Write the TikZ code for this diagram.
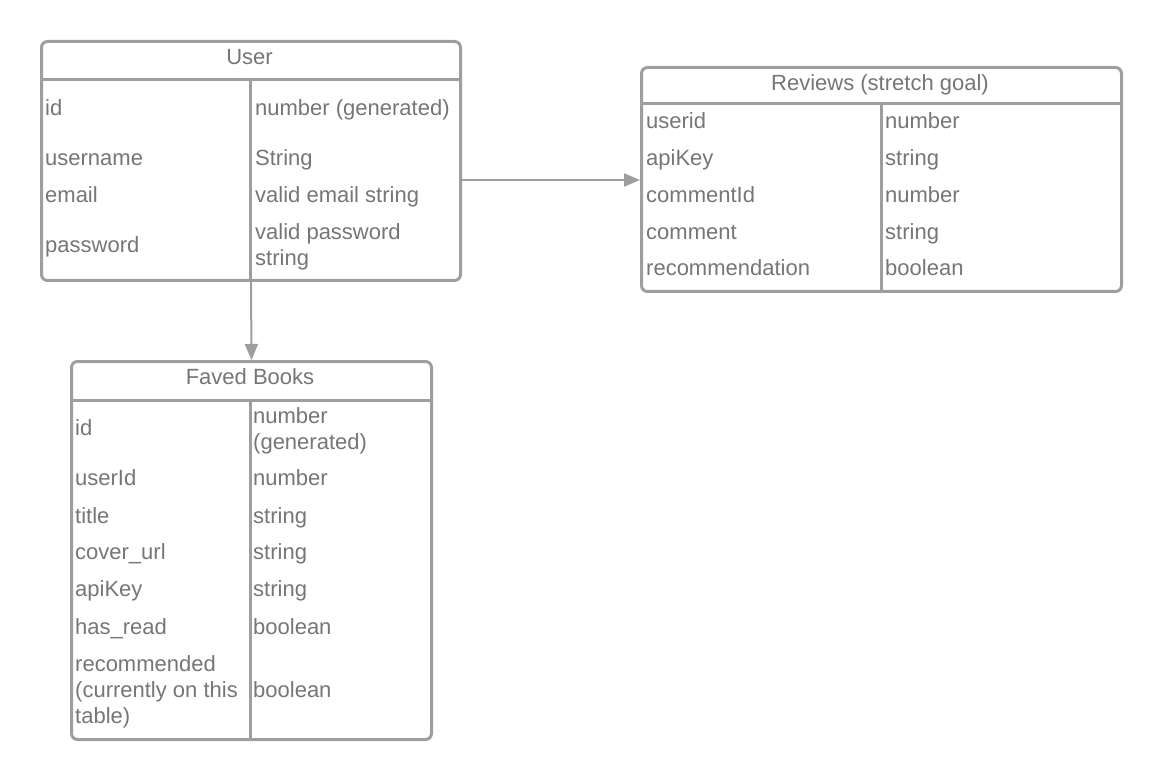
\documentclass[tikz,border=0pt]{standalone}
\usepackage{fontspec}
\setmainfont{Liberation Sans}
\usetikzlibrary{arrows.meta}
\definecolor{linegray}{HTML}{9E9E9E}
\definecolor{textgray}{HTML}{767676}
\tikzset{
  tbl/.style={draw=linegray, line width=3pt, rounded corners=6pt, anchor=north west, inner sep=0pt, fill=white},
  sep/.style={draw=linegray, line width=3pt},
  txt/.style={anchor=west, inner sep=0pt, text=textgray, font=\fontsize{22}{26}\selectfont, text height=15.8pt, text depth=0pt},
  mtxt/.style={anchor=west, inner sep=0pt, text=textgray, font=\fontsize{22}{26}\selectfont, align=left},
  hdr/.style={anchor=center, inner sep=0pt, text=textgray, font=\fontsize{22}{26}\selectfont, text height=15.8pt, text depth=0pt},
  conn/.style={draw=linegray, line width=2pt, -{Triangle[length=16pt,width=13pt]}}
}
\begin{document}
\begin{tikzpicture}[x=1pt,y=-1pt]
\useasboundingbox (0,0) rectangle (1160,778);
% User table
\node[tbl, minimum width=419pt, minimum height=239pt] (user) at (40,40) {};
\draw[sep] (40,80) -- (459,80);
\draw[sep] (250,80) -- (250,279);
\node[hdr] (uh) at (249.5,57) {User};
\node[txt] (u1) at (45,108) {id};
\node[txt] (u1t) at (255,108) {number (generated)};
\node[txt] (u2) at (45,158) {username};
\node[txt] (u2t) at (255,158) {String};
\node[txt] (u3) at (45,195) {email};
\node[txt] (u3t) at (255,195) {valid email string};
\node[txt] (u4) at (45,245) {password};
\node[mtxt] (u4t) at (255,247) {valid password\\string};
% Reviews table
\node[tbl, minimum width=480pt, minimum height=224pt] (rev) at (640,66) {};
\draw[sep] (640,104) -- (1120,104);
\draw[sep] (881,104) -- (881,290);
\node[hdr] (rh) at (880,83) {Reviews (stretch goal)};
\node[txt] (r1) at (646,121) {userid};
\node[txt] (r1t) at (885,121) {number};
\node[txt] (r2) at (646,158) {apiKey};
\node[txt] (r2t) at (885,158) {string};
\node[txt] (r3) at (646,195) {commentId};
\node[txt] (r3t) at (885,195) {number};
\node[txt] (r4) at (646,232) {comment};
\node[txt] (r4t) at (885,232) {string};
\node[txt] (r5) at (646,268) {recommendation};
\node[txt] (r5t) at (885,268) {boolean};
% Faved Books table
\node[tbl, minimum width=360pt, minimum height=378pt] (fav) at (70,360) {};
\draw[sep] (70,400) -- (430,400);
\draw[sep] (250,400) -- (250,738);
\node[hdr] (fh) at (250,377) {Faved Books};
\node[txt] (f1) at (75,428) {id};
\node[mtxt] (f1t) at (253,431) {number\\(generated)};
\node[txt] (f2) at (75,478) {userId};
\node[txt] (f2t) at (253,478) {number};
\node[txt] (f3) at (75,516) {title};
\node[txt] (f3t) at (253,516) {string};
\node[txt] (f4) at (75,552) {cover\_url};
\node[txt] (f4t) at (253,552) {string};
\node[txt] (f5) at (75,589) {apiKey};
\node[txt] (f5t) at (253,589) {string};
\node[txt] (f6) at (75,627) {has\_read};
\node[txt] (f6t) at (253,627) {boolean};
\node[mtxt] (f7) at (75,692) {recommended\\(currently on this\\table)};
\node[txt] (f7t) at (253,690) {boolean};
% connectors
\coordinate (ua) at (459,180);
\draw[conn] (ua) -- (ua -| rev.west);
\draw[conn] (user.south) -- (fav.north);
\end{tikzpicture}
\end{document}
